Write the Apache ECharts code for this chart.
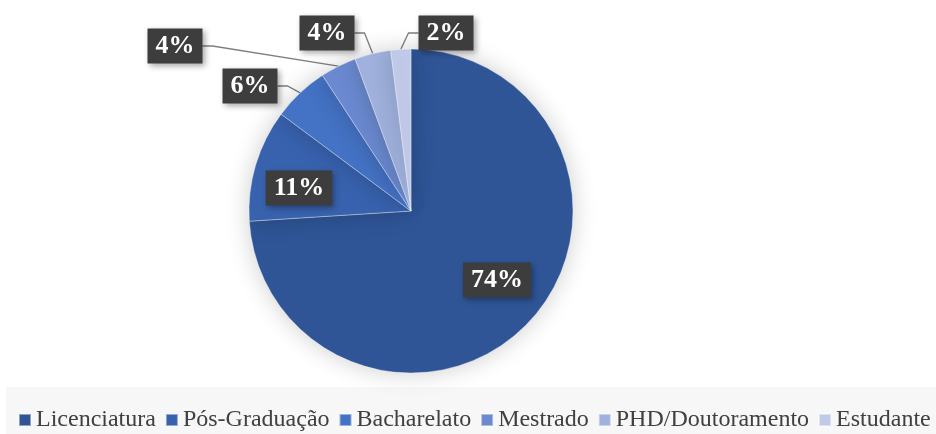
<!DOCTYPE html>
<html><head><meta charset="utf-8">
<script src="https://cdn.jsdelivr.net/npm/echarts@6/dist/echarts.min.js"></script>
<style>html,body{margin:0;padding:0;background:#fff}#c{width:936px;height:434px}</style>
</head><body><div id="c"></div>
<script>
const categories = ['Licenciatura','Pós-Graduação','Bacharelato','Mestrado','PHD/Doutoramento','Estudante'];
const values = [74.0, 11.2, 5.6, 3.6, 3.6, 2.0];
const colors = ['#2f5597','#3862ae','#4472c4','#6a89d0','#9fb1dc','#c0cae8'];
// label box centres (layout only)
const labelPos = [[497,280],[299,188],[250,86],[175,46],[327,33],[446,33]];
const insideIdx = [0,1];

const chart = echarts.init(document.getElementById('c'));
const data = categories.map((n,i)=>{
  const inside = insideIdx.indexOf(i) >= 0;
  return {name:n, value:values[i], itemStyle:{color:colors[i]},
    label:{position: inside ? 'inside' : 'outside'},
    labelLine:{show: !inside}};
});
chart.setOption({
  backgroundColor:'#ffffff',
  animation:false,
  graphic:[{type:'rect', z:-10, shape:{x:6,y:387,width:930,height:47}, style:{fill:'#f7f7f7'}}],
  legend:{
    data:categories, left:13, top:403, icon:'rect', itemWidth:12, itemHeight:12, itemGap:9,
    textStyle:{fontFamily:'Liberation Serif', fontSize:24, color:'#404040'}
  },
  series:[{
    type:'pie', center:[411,211], radius:162, startAngle:90, clockwise:true,
    data:data,
    itemStyle:{borderColor:'rgba(255,255,255,0.45)', borderWidth:0.8, shadowBlur:24, shadowColor:'rgba(0,0,0,0.2)'},
    label:{
      show:true,
      formatter:p=>Math.round(p.percent)+'%',
      fontFamily:'Liberation Serif', fontWeight:'bold', fontSize:26, color:'#ffffff',
      backgroundColor:'#3d3d3d', padding:[6,8,3,8],
      shadowBlur:6, shadowColor:'rgba(0,0,0,0.35)', shadowOffsetX:2, shadowOffsetY:2
    },
    labelLine:{show:true, length:10, length2:10, lineStyle:{color:'#7f7f7f', width:1.3}},
    labelLayout:function(p){
      const pos = labelPos[p.dataIndex];
      return {x:pos[0], y:pos[1], align:'center', verticalAlign:'middle'};
    },
    emphasis:{disabled:true}
  }]
});
</script></body></html>
